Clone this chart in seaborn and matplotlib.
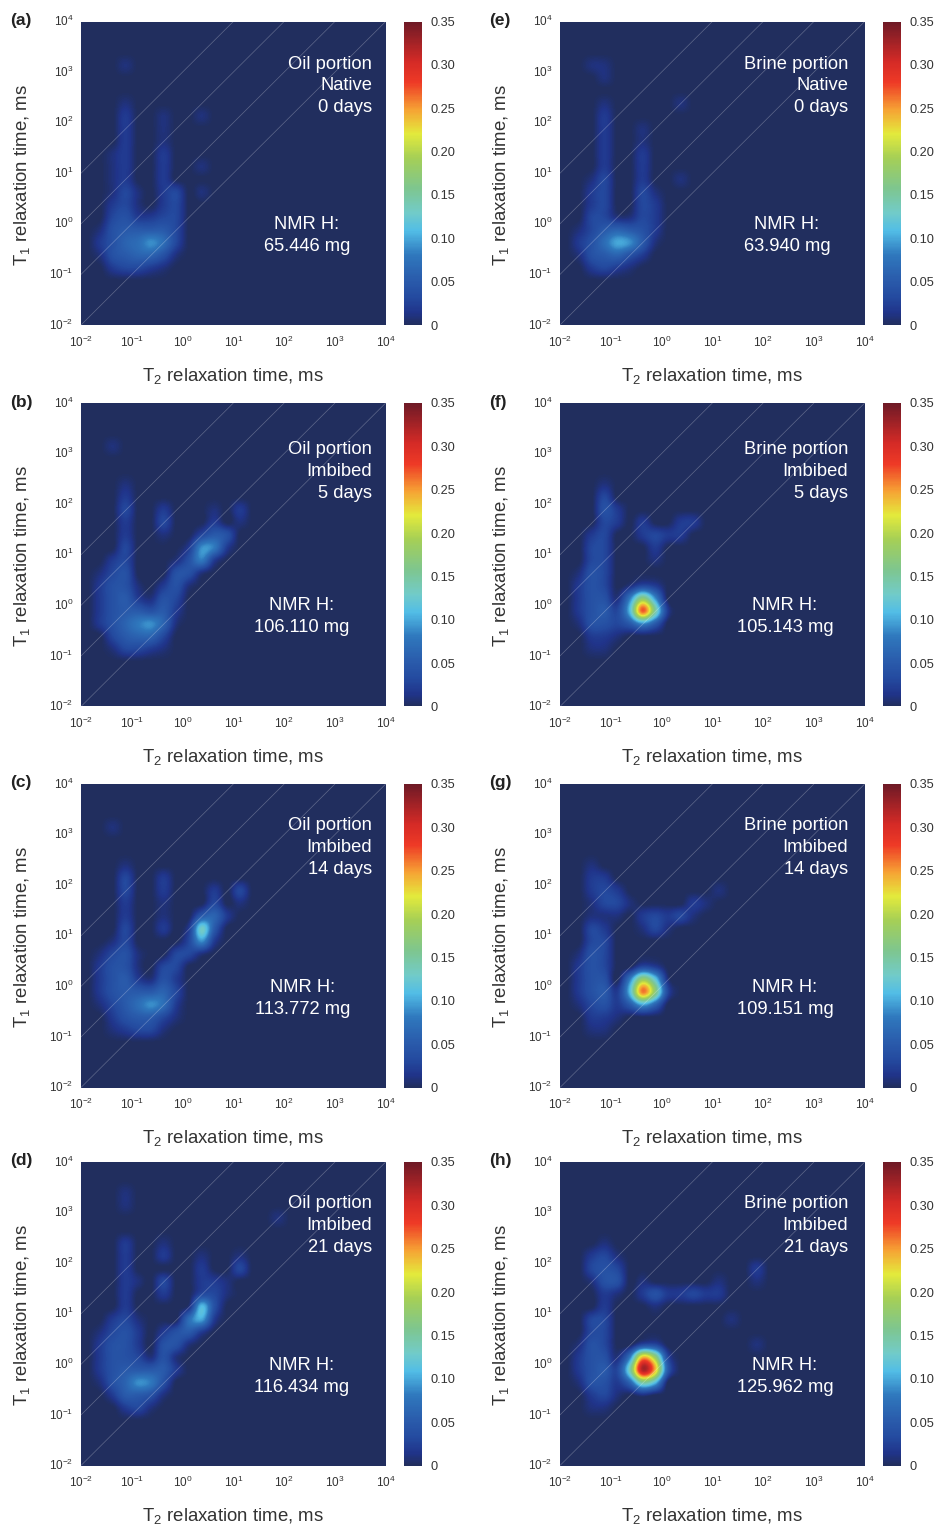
import numpy as np
import pandas as pd
import matplotlib
matplotlib.use("Agg")
import matplotlib.pyplot as plt
from matplotlib.colors import LinearSegmentedColormap
import seaborn as sns

# signal in hundredths, on quarter-decade cells
# columns: log T2 -2 .. 2.25, rows top to bottom: log T1 3.75 .. -1.25
oil_0 = [
    [0,0,0,0,0,0,0,0,0,0,0,0,0,0,0,0,0],
    [0,0,0,0,0,0,0,0,0,0,0,0,0,0,0,0,0],
    [0,0,0,1,0,0,0,0,0,0,0,0,0,0,0,0,0],
    [0,0,0,0,0,0,0,0,0,0,0,0,0,0,0,0,0],
    [0,0,0,0,0,0,0,0,0,0,0,0,0,0,0,0,0],
    [0,0,0,1,0,0,0,0,0,0,0,0,0,0,0,0,0],
    [0,0,0,2,0,0,1,0,0,1,0,0,0,0,0,0,0],
    [0,0,0,2,0,0,1,0,0,0,0,0,0,0,0,0,0],
    [0,0,0,2,0,0,1,0,0,0,0,0,0,0,0,0,0],
    [0,0,1,2,0,0,2,0,0,0,0,0,0,0,0,0,0],
    [0,0,1,2,0,0,2,0,0,1,0,0,0,0,0,0,0],
    [0,0,1,2,0,0,2,0,0,0,0,0,0,0,0,0,0],
    [0,0,1,3,1,0,2,3,0,1,0,0,0,0,0,0,0],
    [0,0,2,3,1,0,2,3,0,0,0,0,0,0,0,0,0],
    [0,0,3,4,2,2,3,3,0,0,0,0,0,0,0,0,0],
    [0,1,4,5,5,5,5,3,0,0,0,0,0,0,0,0,0],
    [0,2,4,6,7,9,7,3,0,0,0,0,0,0,0,0,0],
    [0,1,4,5,6,6,4,1,0,0,0,0,0,0,0,0,0],
    [0,0,2,3,3,2,1,0,0,0,0,0,0,0,0,0,0],
    [0,0,0,0,0,0,0,0,0,0,0,0,0,0,0,0,0],
]
oil_5 = [
    [0,0,0,0,0,0,0,0,0,0,0,0,0,0,0,0,0],
    [0,0,0,0,0,0,0,0,0,0,0,0,0,0,0,0,0],
    [0,0,1,0,0,0,0,0,0,0,0,0,0,0,0,0,0],
    [0,0,0,0,0,0,0,0,0,0,0,0,0,0,0,0,0],
    [0,0,0,0,0,0,0,0,0,0,0,0,0,0,0,0,0],
    [0,0,0,1,0,0,0,0,0,0,0,0,0,0,0,0,0],
    [0,0,0,2,0,0,0,0,0,0,0,0,0,0,0,0,0],
    [0,0,0,3,0,0,2,0,0,0,1,0,2,0,0,0,0],
    [0,0,0,2,0,0,3,0,0,0,2,0,1,0,0,0,0],
    [0,0,0,2,0,0,1,0,0,3,5,4,0,0,0,0,0],
    [0,0,0,3,0,0,0,0,2,9,8,2,0,0,0,0,0],
    [0,0,2,3,0,0,0,1,4,8,2,0,0,0,0,0,0],
    [0,1,3,4,0,0,0,4,4,1,0,0,0,0,0,0,0],
    [0,2,4,4,1,0,2,4,1,0,0,0,0,0,0,0,0],
    [0,2,4,5,2,1,4,3,0,0,0,0,0,0,0,0,0],
    [0,2,4,5,5,4,5,2,0,0,0,0,0,0,0,0,0],
    [0,2,4,6,8,9,6,1,0,0,0,0,0,0,0,0,0],
    [0,0,3,5,6,6,3,0,0,0,0,0,0,0,0,0,0],
    [0,0,1,3,3,2,1,0,0,0,0,0,0,0,0,0,0],
    [0,0,0,0,0,0,0,0,0,0,0,0,0,0,0,0,0],
]
oil_14 = [
    [0,0,0,0,0,0,0,0,0,0,0,0,0,0,0,0,0],
    [0,0,0,0,0,0,0,0,0,0,0,0,0,0,0,0,0],
    [0,0,1,0,0,0,0,0,0,0,0,0,0,0,0,0,0],
    [0,0,0,0,0,0,0,0,0,0,0,0,0,0,0,0,0],
    [0,0,0,0,0,0,0,0,0,0,0,0,0,0,0,0,0],
    [0,0,0,1,0,0,0,0,0,0,0,0,0,0,0,0,0],
    [0,0,0,3,0,0,2,0,0,0,0,0,0,0,0,0,0],
    [0,0,0,3,0,0,2,0,0,0,2,0,3,0,0,0,0],
    [0,0,0,2,0,0,1,0,0,0,3,0,1,0,0,0,0],
    [0,0,0,2,0,0,1,0,0,5,6,2,0,0,0,0,0],
    [0,0,0,3,0,0,2,0,2,13,5,0,0,0,0,0,0],
    [0,0,1,3,0,0,0,0,3,9,2,0,0,0,0,0,0],
    [0,1,3,4,1,0,0,3,3,1,0,0,0,0,0,0,0],
    [0,2,4,4,1,0,3,3,0,0,0,0,0,0,0,0,0],
    [0,2,4,5,2,1,4,2,0,0,0,0,0,0,0,0,0],
    [0,2,4,5,5,5,6,3,0,0,0,0,0,0,0,0,0],
    [0,1,3,5,7,9,7,2,0,0,0,0,0,0,0,0,0],
    [0,0,2,4,5,5,3,1,0,0,0,0,0,0,0,0,0],
    [0,0,1,2,3,3,1,0,0,0,0,0,0,0,0,0,0],
    [0,0,0,0,0,0,0,0,0,0,0,0,0,0,0,0,0],
]
oil_21 = [
    [0,0,0,0,0,0,0,0,0,0,0,0,0,0,0,0,0],
    [0,0,0,1,0,0,0,0,0,0,0,0,0,0,0,0,0],
    [0,0,0,1,0,0,0,0,0,0,0,0,0,0,0,0,0],
    [0,0,0,0,0,0,0,0,0,0,0,0,0,0,0,1,0],
    [0,0,0,0,0,0,0,0,0,0,0,0,0,0,0,0,0],
    [0,0,0,2,0,0,1,0,0,0,0,0,0,0,0,0,0],
    [0,0,0,2,0,0,2,0,0,1,0,0,1,0,0,0,0],
    [0,0,0,2,0,0,0,0,0,2,0,0,3,0,0,0,0],
    [0,0,0,2,1,0,3,0,0,2,2,1,0,0,0,0,0],
    [0,0,0,2,0,0,2,0,0,3,3,1,0,0,0,0,0],
    [0,0,0,2,0,0,0,0,1,11,4,0,0,0,0,0,0],
    [0,0,2,3,1,0,0,0,7,10,2,0,0,0,0,0,0],
    [0,1,3,4,2,0,2,4,5,2,0,0,0,0,0,0,0],
    [0,2,4,4,2,0,4,4,1,0,0,0,0,0,0,0,0],
    [0,2,4,4,3,1,4,1,0,0,0,0,0,0,0,0,0],
    [0,2,4,5,5,5,5,2,0,0,0,0,0,0,0,0,0],
    [0,1,4,6,9,8,4,0,0,0,0,0,0,0,0,0,0],
    [0,0,2,5,5,4,1,0,0,0,0,0,0,0,0,0,0],
    [0,0,0,2,3,1,0,0,0,0,0,0,0,0,0,0,0],
    [0,0,0,0,0,0,0,0,0,0,0,0,0,0,0,0,0],
]
brine_0 = [
    [0,0,0,0,0,0,0,0,0,0,0,0,0,0,0,0,0],
    [0,0,0,0,0,0,0,0,0,0,0,0,0,0,0,0,0],
    [0,0,1,1,0,0,0,0,0,0,0,0,0,0,0,0,0],
    [0,0,0,1,0,0,0,0,0,0,0,0,0,0,0,0,0],
    [0,0,0,0,0,0,0,0,0,0,0,0,0,0,0,0,0],
    [0,0,0,1,0,0,0,0,0,1,0,0,0,0,0,0,0],
    [0,0,0,2,0,0,0,0,0,0,0,0,0,0,0,0,0],
    [0,0,0,2,0,0,1,0,0,0,0,0,0,0,0,0,0],
    [0,0,0,2,0,0,1,0,0,0,0,0,0,0,0,0,0],
    [0,0,0,2,0,0,2,0,0,0,0,0,0,0,0,0,0],
    [0,0,0,2,0,0,2,0,0,0,0,0,0,0,0,0,0],
    [0,0,1,3,0,0,2,0,0,1,0,0,0,0,0,0,0],
    [0,0,2,3,0,0,3,1,0,0,0,0,0,0,0,0,0],
    [0,0,2,3,0,0,3,2,0,0,0,0,0,0,0,0,0],
    [0,0,3,3,1,1,3,2,0,0,0,0,0,0,0,0,0],
    [0,1,3,5,6,5,4,2,0,0,0,0,0,0,0,0,0],
    [0,2,4,7,10,9,5,1,0,0,0,0,0,0,0,0,0],
    [0,1,4,5,6,4,2,0,0,0,0,0,0,0,0,0,0],
    [0,0,2,3,2,1,0,0,0,0,0,0,0,0,0,0,0],
    [0,0,0,0,0,0,0,0,0,0,0,0,0,0,0,0,0],
]
brine_5 = [
    [0,0,0,0,0,0,0,0,0,0,0,0,0,0,0,0,0],
    [0,0,0,0,0,0,0,0,0,0,0,0,0,0,0,0,0],
    [0,0,0,0,0,0,0,0,0,0,0,0,0,0,0,0,0],
    [0,0,0,0,0,0,0,0,0,0,0,0,0,0,0,0,0],
    [0,0,0,0,0,0,0,0,0,0,0,0,0,0,0,0,0],
    [0,0,0,1,0,0,0,0,0,0,0,0,0,0,0,0,0],
    [0,0,0,3,0,0,0,0,0,0,0,0,0,0,0,0,0],
    [0,0,0,4,2,0,0,0,0,0,0,0,0,0,0,0,0],
    [0,0,0,3,2,0,2,0,0,2,2,0,0,0,0,0,0],
    [0,0,2,3,0,0,2,3,2,2,0,0,0,0,0,0,0],
    [0,0,3,3,0,0,0,2,0,0,0,0,0,0,0,0,0],
    [0,0,3,3,0,0,0,1,0,0,0,0,0,0,0,0,0],
    [0,1,4,3,0,0,0,0,0,0,0,0,0,0,0,0,0],
    [0,2,4,3,0,1,3,2,0,0,0,0,0,0,0,0,0],
    [0,2,4,4,1,8,17,9,0,0,0,0,0,0,0,0,0],
    [0,2,4,5,3,11,27,15,2,0,0,0,0,0,0,0,0],
    [0,1,4,4,3,5,9,5,0,0,0,0,0,0,0,0,0],
    [0,0,2,2,1,0,0,0,0,0,0,0,0,0,0,0,0],
    [0,0,1,1,0,0,0,0,0,0,0,0,0,0,0,0,0],
    [0,0,0,0,0,0,0,0,0,0,0,0,0,0,0,0,0],
]
brine_14 = [
    [0,0,0,0,0,0,0,0,0,0,0,0,0,0,0,0,0],
    [0,0,0,0,0,0,0,0,0,0,0,0,0,0,0,0,0],
    [0,0,0,0,0,0,0,0,0,0,0,0,0,0,0,0,0],
    [0,0,0,0,0,0,0,0,0,0,0,0,0,0,0,0,0],
    [0,0,0,0,0,0,0,0,0,0,0,0,0,0,0,0,0],
    [0,0,1,0,0,0,0,0,0,0,0,0,0,0,0,0,0],
    [0,0,2,2,0,0,0,0,0,0,0,0,0,0,0,0,0],
    [0,0,2,3,2,0,0,0,0,0,0,0,1,0,0,0,0],
    [0,0,1,3,3,1,0,0,0,0,2,1,0,0,0,0,0],
    [0,0,1,1,1,0,2,3,2,3,1,0,0,0,0,0,0],
    [0,0,3,2,0,0,1,3,1,0,0,0,0,0,0,0,0],
    [0,0,3,3,0,0,0,0,0,0,0,0,0,0,0,0,0],
    [0,1,4,3,0,0,0,0,0,0,0,0,0,0,0,0,0],
    [0,2,4,3,0,0,3,2,0,0,0,0,0,0,0,0,0],
    [0,2,4,4,0,8,18,12,1,0,0,0,0,0,0,0,0],
    [0,2,4,5,2,11,26,17,3,0,0,0,0,0,0,0,0],
    [0,1,3,4,2,5,10,6,0,0,0,0,0,0,0,0,0],
    [0,0,2,2,1,0,0,0,0,0,0,0,0,0,0,0,0],
    [0,0,1,1,0,0,0,0,0,0,0,0,0,0,0,0,0],
    [0,0,0,0,0,0,0,0,0,0,0,0,0,0,0,0,0],
]
brine_21 = [
    [0,0,0,0,0,0,0,0,0,0,0,0,0,0,0,0,0],
    [0,0,0,0,0,0,0,0,0,0,0,0,0,0,0,0,0],
    [0,0,0,0,0,0,0,0,0,0,0,0,0,0,0,0,0],
    [0,0,0,0,0,0,0,0,0,0,0,0,0,0,0,0,0],
    [0,0,0,0,0,0,0,0,0,0,0,0,0,0,0,0,0],
    [0,0,0,1,0,0,0,0,0,0,0,0,0,0,0,0,0],
    [0,0,2,3,1,0,0,0,0,0,0,0,0,0,0,0,0],
    [0,0,3,4,3,0,0,0,0,0,0,0,0,0,0,2,0],
    [0,0,1,4,4,0,1,0,0,0,0,0,1,0,0,1,0],
    [0,0,0,2,1,0,2,4,2,2,3,2,2,0,0,0,0],
    [0,0,0,2,0,0,0,1,0,0,0,0,0,0,0,0,0],
    [0,0,3,3,0,0,0,0,0,0,0,0,0,1,0,0,0],
    [0,0,3,3,0,0,0,0,0,0,0,0,0,0,0,0,0],
    [0,1,4,3,0,0,3,3,0,0,0,0,0,0,0,1,0],
    [0,2,4,4,1,8,24,18,3,0,0,0,0,0,0,0,0],
    [0,2,4,5,3,14,32,24,5,0,0,0,0,0,0,0,0],
    [0,1,4,4,2,6,15,11,0,0,0,0,0,0,0,0,0],
    [0,0,2,3,1,0,1,0,0,0,0,0,0,0,0,0,0],
    [0,0,1,1,0,0,0,0,0,0,0,0,0,0,0,0,0],
    [0,0,0,0,0,0,0,0,0,0,0,0,0,0,0,0,0],
]

panel_letters = ["(a)", "(b)", "(c)", "(d)", "(e)", "(f)", "(g)", "(h)"]
portions = ["Oil portion"] * 4 + ["Brine portion"] * 4
states = ["Native", "Imbibed", "Imbibed", "Imbibed"] * 2
days = ["0 days", "5 days", "14 days", "21 days"] * 2
nmr_h = ["65.446 mg", "106.110 mg", "113.772 mg", "116.434 mg",
         "63.940 mg", "105.143 mg", "109.151 mg", "125.962 mg"]
maps = [oil_0, oil_5, oil_14, oil_21, brine_0, brine_5, brine_14, brine_21]
decades = [-2, -1, 0, 1, 2, 3, 4]
cbar_ticks = [0, 0.05, 0.10, 0.15, 0.20, 0.25, 0.30, 0.35]
cbar_labels = ["0", "0.05", "0.10", "0.15", "0.20", "0.25", "0.30", "0.35"]

W, H = 938, 1525
col_x = [81, 560]
row_y = [21.5, 403, 784, 1162]
nmr_x = [307, 302, 303, 302, 787, 785, 785, 785]
note_dy = [42, 46, 41, 41]
text_c = "#333333"

cmap = LinearSegmentedColormap.from_list("nmr", [
    (0.0, "#212e5e"), (0.04, "#20348a"), (0.09, "#244a9f"), (0.15, "#2a5cac"),
    (0.23, "#2f78bd"), (0.31, "#52bde6"), (0.37, "#72cbc8"), (0.45, "#7ec68f"),
    (0.55, "#a5cf56"), (0.63, "#e3ea3c"), (0.71, "#f6a234"), (0.80, "#ee3a26"),
    (0.87, "#d42a26"), (1.0, "#6e1a26")])


def px_axes(fig, x, y, w, h):
    return fig.add_axes([x / W, 1 - (y + h) / H, w / W, h / H])


def put(fig, x, y, s, **kw):
    fig.text(x / W, 1 - y / H, s, **kw)


def main():
    sns.set_theme(style="white")
    plt.rcParams["font.family"] = ["Liberation Sans", "DejaVu Sans"]
    plt.rcParams["mathtext.fontset"] = "custom"
    plt.rcParams["mathtext.rm"] = "Liberation Sans"
    fig = plt.figure(figsize=(W / 100, H / 100), dpi=100)

    tick_labels = ["$\\mathregular{10^{%d}}$" % d for d in decades]
    tick_pos = [(d + 2) * 4 for d in decades]
    for i, values in enumerate(maps):
        x0, y0 = col_x[i // 4], row_y[i % 4]
        ax = px_axes(fig, x0, y0, 304.7, 303.5)
        cax = px_axes(fig, x0 + 322.5, y0, 18.5, 303.5)

        grid = np.pad(np.array(values) * 0.01, ((1, 3), (0, 7)))
        df = pd.DataFrame(grid)
        sns.heatmap(df, ax=ax, cbar_ax=cax, cmap=cmap, vmin=0, vmax=0.35)
        # smooth the same cells, the source map is a continuous image
        ax.imshow(grid, extent=(0, 24, 24, 0), cmap=cmap, vmin=0, vmax=0.35,
                  interpolation="catrom", aspect="auto", zorder=2)
        ax.set_xlim(0, 24)
        ax.set_ylim(24, 0)

        for k in [0, 1, 2, 3]:
            ax.plot([0, 24 - k * 4], [24 - k * 4, 0], color="white", lw=0.5,
                    alpha=0.28, zorder=3)

        ax.set_xticks(tick_pos)
        ax.set_xticklabels(tick_labels, rotation=0)
        ax.set_yticks(tick_pos)
        ax.set_yticklabels(tick_labels[::-1], rotation=0)
        ax.tick_params(axis="x", length=0, pad=7, labelsize=8.5, colors=text_c)
        ax.tick_params(axis="y", length=0, pad=5.5, labelsize=8.5, colors=text_c)
        ax.set_xlabel("")
        ax.set_ylabel("")

        cax.set_yticks(cbar_ticks)
        cax.set_yticklabels(cbar_labels)
        cax.tick_params(length=0, pad=6, labelsize=9.2,
                        colors=text_c, right=True)

        dy = note_dy[i % 4]
        note = dict(color="white", fontsize=13.2, va="center")
        for k, s in enumerate([portions[i], states[i], days[i]]):
            put(fig, x0 + (291 if i < 4 else 288), y0 + dy + 1 + k * 21.5, s, ha="right", **note)
        put(fig, nmr_x[i], y0 + 203, "NMR H:", ha="center", **note)
        put(fig, nmr_x[i], y0 + 225, nmr_h[i], ha="center", **note)

        put(fig, x0 - 71, y0 - 1, panel_letters[i], fontsize=12.5, weight="bold",
            color="#222222", va="center")
        put(fig, x0 + 152, y0 + 354, "T$\\mathregular{_2}$ relaxation time, ms",
            fontsize=13.4, color=text_c, ha="center", va="center")
        put(fig, x0 - 59, y0 + 153, "T$\\mathregular{_1}$ relaxation time, ms",
            fontsize=13.4, color=text_c, ha="center", va="center", rotation=90)

    fig.savefig("out.png", dpi=100)


if __name__ == "__main__":
    main()
